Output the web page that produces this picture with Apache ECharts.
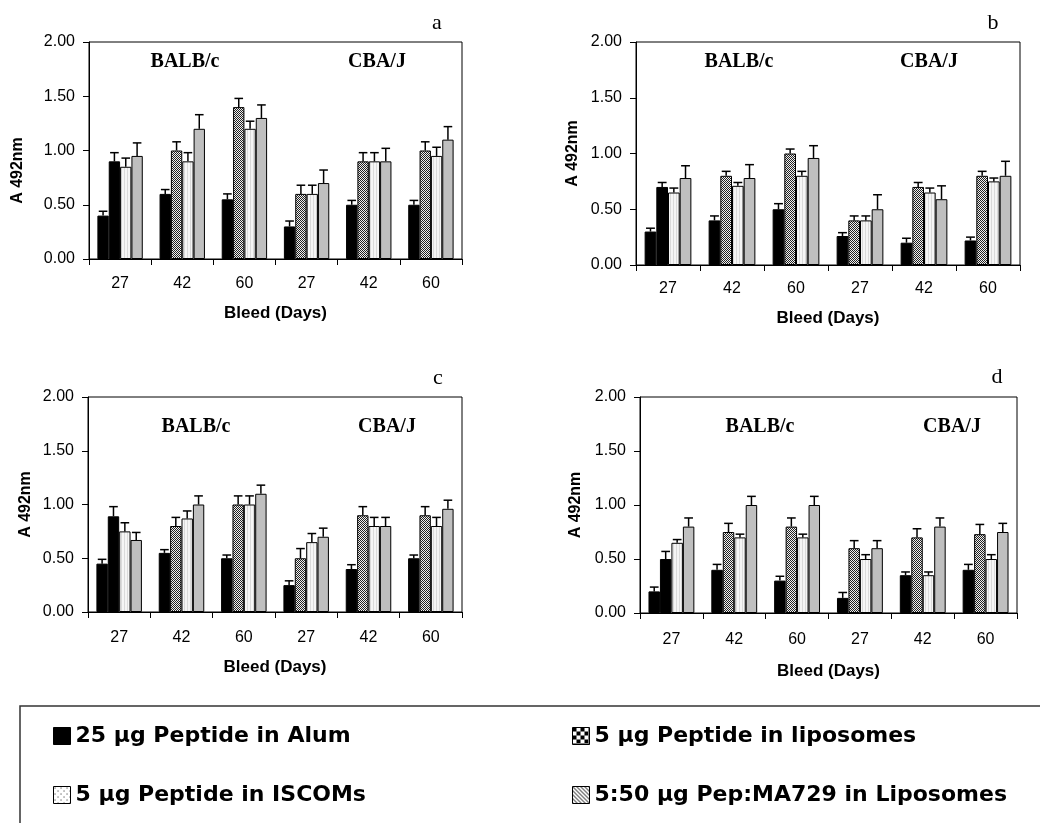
<!DOCTYPE html>
<html><head><meta charset="utf-8">
<script src="https://cdn.jsdelivr.net/npm/echarts@6/dist/echarts.min.js"></script>
<style>html,body{margin:0;padding:0;background:#fff}#chart{width:1040px;height:823px}</style>
</head><body><div id="chart"></div>
<script>
// ---------- DATA ----------
const categories = ['27', '42', '60', '27', '42', '60'];
const yTickLabels = ['0.00', '0.50', '1.00', '1.50', '2.00'];
const seriesNames = ['25 µg Peptide in Alum', '5 µg Peptide in liposomes', '5 µg Peptide in ISCOMs', '5:50 µg Pep:MA729 in Liposomes'];
const panelLetters = ['a', 'b', 'c', 'd'];
const strainLabels = ['BALB/c', 'CBA/J'];
const yAxisTitle = 'A 492nm';
const xAxisTitle = 'Bleed (Days)';

// panel a
const a_alum = [0.40, 0.60, 0.55, 0.30, 0.50, 0.50];
const a_lipo = [0.90, 1.00, 1.40, 0.60, 0.90, 1.00];
const a_iscom = [0.85, 0.90, 1.20, 0.60, 0.90, 0.95];
const a_ma729 = [0.95, 1.20, 1.30, 0.70, 0.90, 1.10];
const a_alum_err = [0.04, 0.04, 0.05, 0.05, 0.04, 0.04];
const a_lipo_err = [0.08, 0.08, 0.08, 0.08, 0.08, 0.08];
const a_iscom_err = [0.08, 0.08, 0.07, 0.08, 0.08, 0.08];
const a_ma729_err = [0.12, 0.13, 0.12, 0.12, 0.12, 0.12];
// panel b
const b_alum = [0.30, 0.40, 0.50, 0.26, 0.20, 0.22];
const b_lipo = [0.70, 0.80, 1.00, 0.40, 0.70, 0.80];
const b_iscom = [0.65, 0.71, 0.80, 0.40, 0.65, 0.75];
const b_ma729 = [0.78, 0.78, 0.96, 0.50, 0.59, 0.80];
const b_alum_err = [0.03, 0.04, 0.05, 0.03, 0.04, 0.03];
const b_lipo_err = [0.04, 0.04, 0.04, 0.04, 0.04, 0.04];
const b_iscom_err = [0.04, 0.03, 0.04, 0.04, 0.04, 0.03];
const b_ma729_err = [0.11, 0.12, 0.11, 0.13, 0.12, 0.13];
// panel c
const c_alum = [0.45, 0.55, 0.50, 0.25, 0.40, 0.50];
const c_lipo = [0.89, 0.80, 1.00, 0.50, 0.90, 0.90];
const c_iscom = [0.75, 0.87, 1.00, 0.65, 0.80, 0.80];
const c_ma729 = [0.67, 1.00, 1.10, 0.70, 0.80, 0.96];
const c_alum_err = [0.04, 0.03, 0.03, 0.04, 0.04, 0.03];
const c_lipo_err = [0.09, 0.08, 0.08, 0.09, 0.08, 0.08];
const c_iscom_err = [0.08, 0.07, 0.08, 0.08, 0.08, 0.08];
const c_ma729_err = [0.07, 0.08, 0.08, 0.08, 0.08, 0.08];
// panel d
const d_alum = [0.20, 0.40, 0.30, 0.14, 0.35, 0.40];
const d_lipo = [0.50, 0.75, 0.80, 0.60, 0.70, 0.73];
const d_iscom = [0.65, 0.70, 0.70, 0.50, 0.35, 0.50];
const d_ma729 = [0.80, 1.00, 1.00, 0.60, 0.80, 0.75];
const d_alum_err = [0.04, 0.05, 0.04, 0.05, 0.03, 0.05];
const d_lipo_err = [0.07, 0.08, 0.08, 0.07, 0.08, 0.09];
const d_iscom_err = [0.03, 0.03, 0.03, 0.04, 0.03, 0.04];
const d_ma729_err = [0.08, 0.08, 0.08, 0.07, 0.08, 0.08];

const panelValues = [
  [a_alum, a_lipo, a_iscom, a_ma729],
  [b_alum, b_lipo, b_iscom, b_ma729],
  [c_alum, c_lipo, c_iscom, c_ma729],
  [d_alum, d_lipo, d_iscom, d_ma729]
];
const panelErrors = [
  [a_alum_err, a_lipo_err, a_iscom_err, a_ma729_err],
  [b_alum_err, b_lipo_err, b_iscom_err, b_ma729_err],
  [c_alum_err, c_lipo_err, c_iscom_err, c_ma729_err],
  [d_alum_err, d_lipo_err, d_iscom_err, d_ma729_err]
];

// ---------- STYLE / LAYOUT ----------
function makePattern(w, h, draw) {
  const c = document.createElement('canvas');
  c.width = w; c.height = h;
  draw(c.getContext('2d'));
  return { image: c, repeat: 'repeat' };
}
const patCheckFine = makePattern(2, 2, ctx => {
  ctx.fillStyle = '#f0f0f0'; ctx.fillRect(0, 0, 2, 2);
  ctx.fillStyle = '#222'; ctx.fillRect(0, 0, 1, 1); ctx.fillRect(1, 1, 1, 1);
});
const patLight = makePattern(3, 1, ctx => {
  ctx.fillStyle = '#f5f5f5'; ctx.fillRect(0, 0, 3, 1);
  ctx.fillStyle = '#dadada'; ctx.fillRect(1, 0, 1, 1);
});
const patCheckBig = makePattern(8, 8, ctx => {
  ctx.fillStyle = '#fff'; ctx.fillRect(0, 0, 8, 8);
  ctx.fillStyle = '#000'; ctx.fillRect(0, 0, 4, 4); ctx.fillRect(4, 4, 4, 4);
});
const patDots = makePattern(6, 6, ctx => {
  ctx.fillStyle = '#fff'; ctx.fillRect(0, 0, 6, 6);
  ctx.fillStyle = '#000'; ctx.fillRect(1, 1, 1, 1); ctx.fillRect(4, 4, 1, 1);
});
const patHatch = makePattern(4, 4, ctx => {
  ctx.fillStyle = '#fff'; ctx.fillRect(0, 0, 4, 4);
  ctx.fillStyle = '#000';
  for (let i = 0; i < 4; i++) ctx.fillRect(i, i, 1, 1);
});

const barFills = ['#000', patCheckFine, patLight, '#bfbfbf'];
const legendFills = ['#000', patCheckBig, patDots, patHatch];
const CAT_GAP = 0.27;

const grids = [
  { left: 89, top: 42, width: 373, height: 217 },
  { left: 636, top: 42, width: 384, height: 223 },
  { left: 88, top: 397, width: 374, height: 215 },
  { left: 640, top: 397, width: 377, height: 216 }
];
const xLabelMargin = [17, 16, 18, 19];
const xNameGap = [46, 45, 47, 50];
const yNameGap = [63, 55, 54, 56];
const yNamePad = [[0, 40, 0, 0], 0, 0, 0];
const letterPos = [[437, 23], [993, 23], [438, 378], [997, 377]];
const strainPos = [
  [[185, 61.5], [377, 61.5]],
  [[739, 61.5], [929, 61.5]],
  [[196, 426.5], [387, 426.5]],
  [[760, 427], [952, 427]]
];

const axisFont = 'Liberation Sans, Arial, sans-serif';

function renderErr(params, api) {
  const xi = api.value(0), v = api.value(1), e = api.value(2), k = api.value(3);
  const base = api.coord([xi, v]);
  const top = api.coord([xi, v + e]);
  const band = api.size([1, 0])[0];
  const total = band * (1 - CAT_GAP);
  const bw = total / 4;
  const x = base[0] - total / 2 + bw * (k + 0.5);
  const cap = bw * 0.38;
  const st = { stroke: '#000', lineWidth: 1.5 };
  return {
    type: 'group',
    children: [
      { type: 'line', shape: { x1: x, y1: base[1], x2: x, y2: top[1] }, style: st },
      { type: 'line', shape: { x1: x - cap, y1: top[1], x2: x + cap, y2: top[1] }, style: st }
    ]
  };
}

const option = {
  animation: false,
  backgroundColor: '#fff',
  grid: grids.map(g => Object.assign({ show: true, borderColor: '#000', borderWidth: 1, backgroundColor: 'transparent', outerBoundsMode: 'none' }, g)),
  xAxis: grids.map((g, p) => ({
    type: 'category', gridIndex: p, data: categories,
    name: xAxisTitle, nameLocation: 'middle', nameGap: xNameGap[p],
    nameTextStyle: { fontFamily: axisFont, fontWeight: 'bold', fontSize: 17, color: '#000' },
    axisLine: { show: true, lineStyle: { color: '#000', width: 1 } },
    axisTick: { show: true, alignWithLabel: false, interval: 0, length: 6, lineStyle: { color: '#000' } },
    axisLabel: { interval: 0, margin: xLabelMargin[p], fontFamily: axisFont, fontSize: 16, color: '#000' },
    splitLine: { show: false }
  })),
  yAxis: grids.map((g, p) => ({
    type: 'value', gridIndex: p, min: 0, max: 2, interval: 0.5,
    name: yAxisTitle, nameLocation: 'middle', nameGap: yNameGap[p],
    nameTextStyle: { fontFamily: axisFont, fontWeight: 'bold', fontSize: 16, color: '#000', padding: yNamePad[p] },
    axisLine: { show: true, lineStyle: { color: '#000', width: 1 } },
    axisTick: { show: true, length: 6, lineStyle: { color: '#000' } },
    axisLabel: { margin: 14, fontFamily: axisFont, fontSize: 16, color: '#000',
      formatter: (v, i) => yTickLabels[i] },
    splitLine: { show: false }
  })),
  legend: [
    { data: [0, 2], left: 53 },
    { data: [1, 3], left: 572 }
  ].map(l => ({
    orient: 'vertical', left: l.left, top: 725, padding: 0, itemGap: 37,
    itemWidth: 17, itemHeight: 17, selectedMode: false,
    textStyle: { fontFamily: 'DejaVu Sans, sans-serif', fontWeight: 'bold', fontSize: 22, color: '#000' },
    data: l.data.map(k => ({
      name: seriesNames[k], icon: 'rect',
      itemStyle: { color: legendFills[k], borderColor: '#000', borderWidth: 1 }
    }))
  })),
  series: [],
  graphic: []
};

panelValues.forEach((vals, p) => {
  vals.forEach((arr, k) => {
    option.series.push({
      type: 'bar', name: seriesNames[k], xAxisIndex: p, yAxisIndex: p,
      barGap: '0%', barCategoryGap: (CAT_GAP * 100) + '%',
      itemStyle: { color: barFills[k], borderColor: '#000', borderWidth: 1 },
      emphasis: { disabled: true },
      data: arr.map((v, i) => (k === 1 && i === 0) ? { value: v, itemStyle: { color: '#000' } } : v),
      z: 2
    });
  });
  vals.forEach((arr, k) => {
    option.series.push({
      type: 'custom', name: 'err-' + p + '-' + k, xAxisIndex: p, yAxisIndex: p,
      renderItem: renderErr, encode: { x: 0, y: 1 }, z: 3, silent: true,
      data: arr.map((v, i) => [i, v, panelErrors[p][k][i], k])
    });
  });
  option.graphic.push({
    type: 'text', x: letterPos[p][0], y: letterPos[p][1],
    style: { text: panelLetters[p], font: '22px "Liberation Serif", "Times New Roman", serif', fill: '#000', align: 'center', verticalAlign: 'middle' }
  });
  strainLabels.forEach((s, j) => {
    option.graphic.push({
      type: 'text', x: strainPos[p][j][0], y: strainPos[p][j][1],
      style: { text: s, font: 'bold 20px "Liberation Serif", "Times New Roman", serif', fill: '#000', align: 'center', verticalAlign: 'middle' }
    });
  });
});

option.graphic.push({
  type: 'rect', shape: { x: 20, y: 706, width: 1100, height: 300 },
  style: { fill: 'none', stroke: '#333', lineWidth: 1.5 }, z: -1
});

const chart = echarts.init(document.getElementById('chart'), null, { renderer: 'canvas' });
chart.setOption(option);
</script></body></html>
